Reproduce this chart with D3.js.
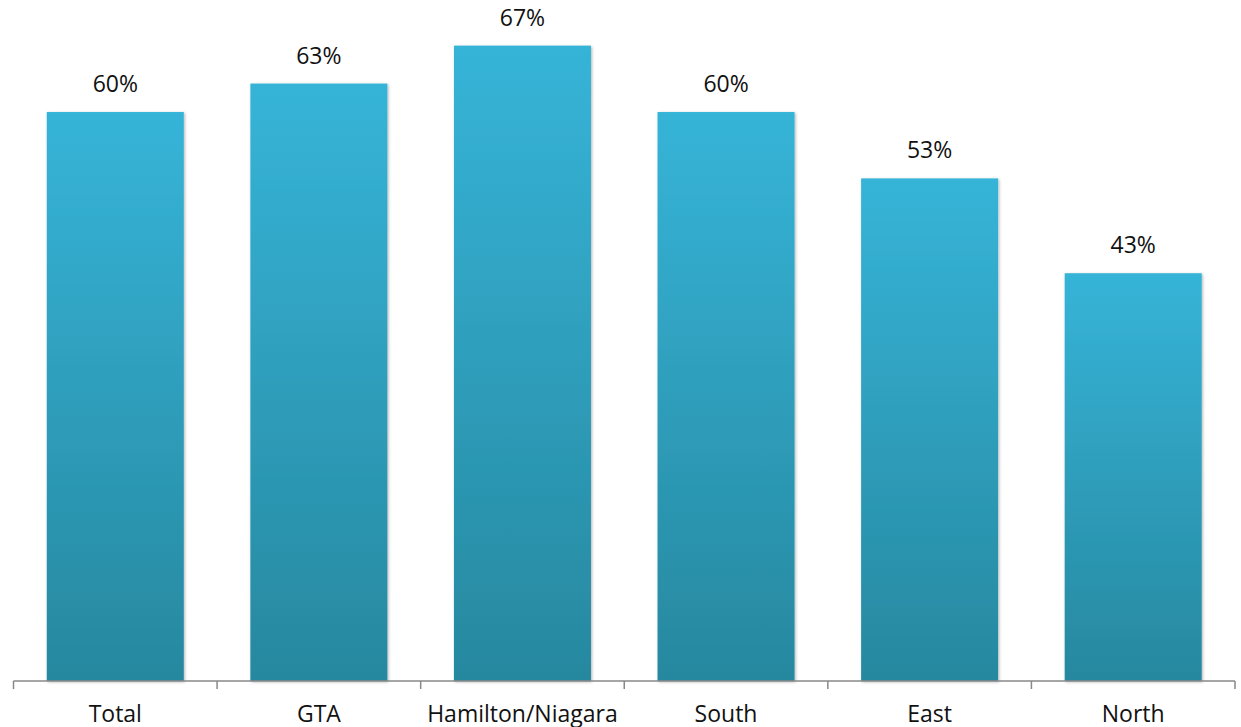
<!DOCTYPE html>
<html>
<head>
<meta charset="utf-8">
<script src="https://cdn.jsdelivr.net/npm/d3@7"></script>
<style>
  body { margin: 0; background: #fff; }
  svg { display: block; font-family: "Open Sans", "Noto Sans", sans-serif; }
</style>
</head>
<body>
<svg class="chart-1"></svg>
<script>
// categories + values
var regions = ["Total", "GTA", "Hamilton/Niagara", "South", "East", "North"];
var shares = [60, 63, 67, 60, 53, 43];

var width = 1241, height = 727;
var base = 681;

var svg = d3.select(".chart-1")
    .attr("width", width)
    .attr("height", height);

var defs = svg.append("defs");
var grad = defs.append("linearGradient")
    .attr("id", "barGrad")
    .attr("x1", 0).attr("y1", 0).attr("x2", 0).attr("y2", 1);
grad.append("stop").attr("offset", "0%").attr("stop-color", "#36b4d8");
grad.append("stop").attr("offset", "100%").attr("stop-color", "#27889f");

var shadow = defs.append("filter").attr("id", "shadow")
    .attr("x", "-10%").attr("y", "-10%").attr("width", "120%").attr("height", "120%");
shadow.append("feDropShadow")
    .attr("dx", 1).attr("dy", 1).attr("stdDeviation", 1.5)
    .attr("flood-color", "#000").attr("flood-opacity", 0.3);

var x = d3.scaleBand()
    .domain(regions)
    .range([13.5, 1235])
    .paddingInner(0.327)
    .paddingOuter(0.1635);

var y = d3.scaleLinear()
    .domain([0, 100])
    .range([base, base - 948.3]);

// bars
svg.append("g")
  .selectAll("rect")
  .data(regions)
  .enter().append("rect")
    .attr("x", d => x(d))
    .attr("y", (d, i) => y(shares[i]))
    .attr("width", x.bandwidth())
    .attr("height", (d, i) => y(0) - y(shares[i]))
    .attr("fill", "url(#barGrad)")
    .attr("filter", "url(#shadow)");

// value labels
svg.append("g")
  .selectAll("text")
  .data(regions)
  .enter().append("text")
    .attr("x", d => x(d) + x.bandwidth() / 2)
    .attr("y", (d, i) => y(shares[i]) - 20)
    .attr("text-anchor", "middle")
    .attr("font-size", 23)
    .attr("fill", "#111")
    .text((d, i) => shares[i] + "%");

// x axis with ticks at band boundaries
var axis = svg.append("g").attr("transform", "translate(0," + base + ")");
axis.append("line")
    .attr("x1", x.range()[0]).attr("x2", x.range()[1])
    .attr("stroke", "#888").attr("stroke-width", 1.5);

var bounds = regions.map(d => x(d) - x.step() * x.paddingInner() / 2);
bounds.push(x.range()[1]);
bounds[0] = x.range()[0];
axis.selectAll("line.tick")
  .data(bounds)
  .enter().append("line")
    .attr("class", "tick")
    .attr("x1", d => d).attr("x2", d => d)
    .attr("y1", 0).attr("y2", 8)
    .attr("stroke", "#888").attr("stroke-width", 1.5);

axis.selectAll("text")
  .data(regions)
  .enter().append("text")
    .attr("x", d => x(d) + x.bandwidth() / 2)
    .attr("y", 41)
    .attr("text-anchor", "middle")
    .attr("font-size", 23)
    .attr("fill", "#111")
    .text(d => d);
</script>
</body>
</html>
